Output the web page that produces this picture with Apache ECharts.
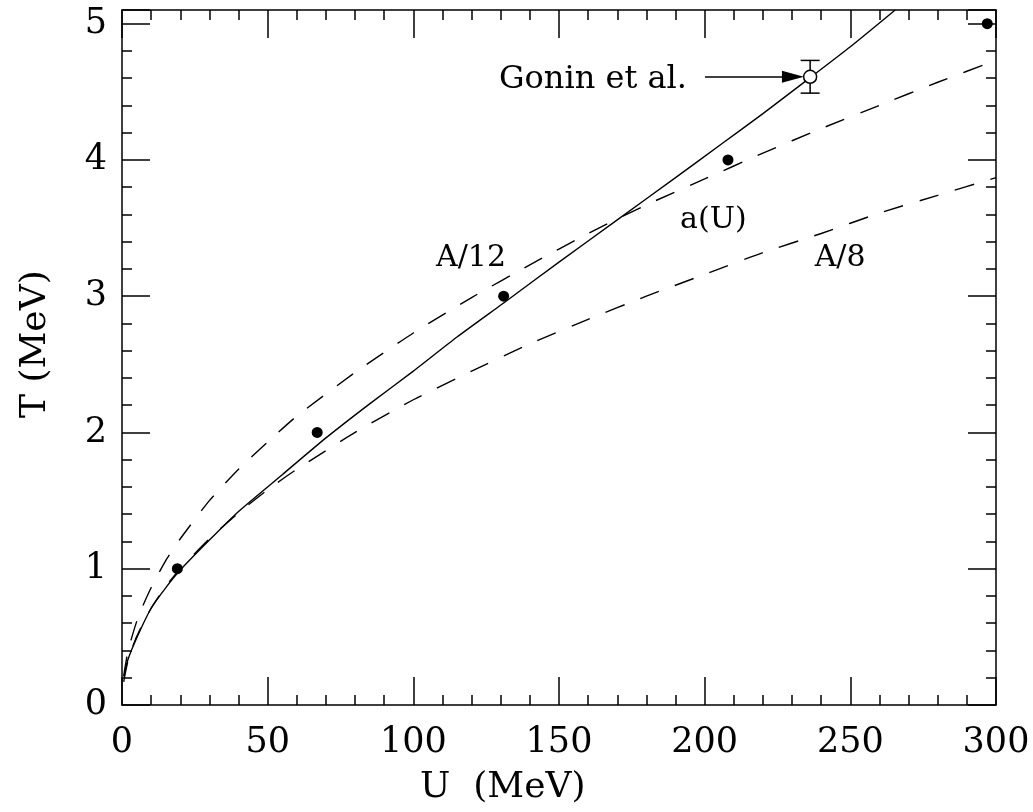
<!DOCTYPE html>
<html>
<head>
<meta charset="utf-8">
<script src="https://cdn.jsdelivr.net/npm/echarts@6/dist/echarts.min.js"></script>
<style>html,body{margin:0;padding:0;background:#fff;}#c{width:1033px;height:812px;}</style>
</head>
<body>
<div id="c"></div>
<script>
// ---- data ----
const solidU = [0.7, 2, 5, 10, 15, 20, 30, 40, 55, 70, 85, 100, 115, 131, 150, 170, 190, 206, 220, 236, 250, 265.4];
const solidT = [0.21, 0.33, 0.49, 0.71, 0.86, 0.99, 1.21, 1.42, 1.69, 1.96, 2.21, 2.45, 2.70, 2.95, 3.25, 3.56, 3.87, 4.12, 4.34, 4.60, 4.83, 5.10];

const dashU = [0.6, 1, 2, 3, 5, 7, 10, 15, 20, 30, 40, 50, 60, 80, 100, 120, 140, 160, 180, 200, 220, 240, 260, 280, 300];
const a12T = [0.21, 0.27, 0.39, 0.47, 0.61, 0.72, 0.86, 1.06, 1.22, 1.50, 1.73, 1.93, 2.12, 2.44, 2.73, 2.99, 3.23, 3.46, 3.67, 3.86, 4.05, 4.23, 4.40, 4.57, 4.73];
const a8T  = [0.17, 0.22, 0.32, 0.39, 0.50, 0.59, 0.71, 0.87, 1.00, 1.22, 1.41, 1.58, 1.73, 2.00, 2.24, 2.45, 2.65, 2.83, 3.00, 3.16, 3.32, 3.46, 3.61, 3.74, 3.87];

const pointsU = [19, 67, 131, 208, 297];
const pointsT = [1, 2, 3, 4, 5];

const goninU = [236.2];
const goninT = [4.61];
const goninLow = [4.49];
const goninHigh = [4.73];

const arrowU = [200.1, 230.3];
const arrowT = [4.61, 4.61];

const labelText = ['A/12', 'a(U)', 'A/8'];
const labelU = [119.8, 203, 246.5];
const labelT = [3.28, 3.56, 3.28];
const goninText = 'Gonin et al.';
const goninLabelU = 193.9;
const goninLabelT = 4.59;

const xTicksMajor = 50, xTicksMinor = 10;
const yTicksMajor = 1, yTicksMinor = 0.2;
const xMin = 0, xMax = 300, yMin = 0, yMax = 5.1;

// ---- chart ----
const FONT = 'DejaVu Serif';
const zip = (a, b) => a.map((v, i) => [v, b[i]]);
const chart = echarts.init(document.getElementById('c'), null, {renderer: 'canvas'});

const gridRect = {left: 122, right: 37, top: 10, bottom: 107};
const lineStyle = {color: '#000', width: 1.5};

function xAx(gridIndex, position, interval, len, showLabel, showLine) {
  return {
    type: 'value', gridIndex, position, min: xMin, max: xMax, interval,
    axisLine: {show: showLine, onZero: false, lineStyle},
    axisTick: {show: true, inside: true, length: len, lineStyle},
    axisLabel: {show: showLabel, color: '#000', fontFamily: FONT, fontSize: 35, margin: 20},
    splitLine: {show: false}
  };
}
function yAx(gridIndex, position, interval, len, showLabel, showLine) {
  return {
    type: 'value', gridIndex, position, min: yMin, max: yMax, interval,
    axisLine: {show: showLine, onZero: false, lineStyle},
    axisTick: {show: true, inside: true, length: len, lineStyle},
    axisLabel: {show: showLabel, color: '#000', fontFamily: FONT, fontSize: 35, margin: 15,
      formatter: v => (Math.abs(v - Math.round(v)) < 1e-9 ? String(Math.round(v)) : '')},
    splitLine: {show: false}
  };
}

const option = {
  backgroundColor: '#fff',
  animation: false,
  grid: [Object.assign({}, gridRect), Object.assign({}, gridRect)],
  xAxis: [
    xAx(0, 'bottom', xTicksMajor, 28, true, true),
    xAx(0, 'top', xTicksMajor, 28, false, true),
    xAx(1, 'bottom', xTicksMinor, 10, false, false),
    xAx(1, 'top', xTicksMinor, 10, false, false)
  ],
  yAxis: [
    yAx(0, 'left', yTicksMajor, 28, true, true),
    yAx(0, 'right', yTicksMajor, 28, false, true),
    yAx(1, 'left', yTicksMinor, 10, false, false),
    yAx(1, 'right', yTicksMinor, 10, false, false)
  ],
  graphic: [
    {type: 'text', left: 420, top: 770, style: {text: 'U  (MeV)', font: '36px "DejaVu Serif"', fill: '#000'}},
    {type: 'text', x: 18, y: 418, rotation: Math.PI / 2,
      style: {text: 'T (MeV)', font: '36px "DejaVu Serif"', fill: '#000'}}
  ],
  series: [
    {type: 'line', name: 'a(U)', xAxisIndex: 0, yAxisIndex: 0, data: zip(solidU, solidT),
      showSymbol: false, symbol: 'none', smooth: 0.2, clip: true,
      lineStyle: {color: '#000', width: 1.4}},
    {type: 'line', name: 'A/12', xAxisIndex: 0, yAxisIndex: 0, data: zip(dashU, a12T),
      showSymbol: false, symbol: 'none', smooth: 0.2, clip: true,
      lineStyle: {color: '#000', width: 1.4, type: [20, 17]}},
    {type: 'line', name: 'A/8', xAxisIndex: 0, yAxisIndex: 0, data: zip(dashU, a8T),
      showSymbol: false, symbol: 'none', smooth: 0.2, clip: true,
      lineStyle: {color: '#000', width: 1.4, type: [20, 17]}},
    {type: 'scatter', name: 'points', xAxisIndex: 0, yAxisIndex: 0, data: zip(pointsU, pointsT),
      symbol: 'circle', symbolSize: 11, itemStyle: {color: '#000', opacity: 1}, clip: false, z: 5},
    {type: 'custom', name: 'errorbar', xAxisIndex: 0, yAxisIndex: 0,
      data: goninU.map((u, i) => [u, goninLow[i], goninHigh[i]]),
      renderItem: function (params, api) {
        const lo = api.coord([api.value(0), api.value(1)]);
        const hi = api.coord([api.value(0), api.value(2)]);
        const w = 9.5;
        const s = {stroke: '#000', lineWidth: 1.5, fill: null};
        return {type: 'group', children: [
          {type: 'line', shape: {x1: lo[0], y1: lo[1], x2: hi[0], y2: hi[1]}, style: s},
          {type: 'line', shape: {x1: lo[0] - w, y1: lo[1], x2: lo[0] + w, y2: lo[1]}, style: s},
          {type: 'line', shape: {x1: hi[0] - w, y1: hi[1], x2: hi[0] + w, y2: hi[1]}, style: s}
        ]};
      }, z: 4},
    {type: 'scatter', name: 'Gonin', xAxisIndex: 0, yAxisIndex: 0, data: zip(goninU, goninT),
      symbol: 'circle', symbolSize: 13,
      itemStyle: {color: '#fff', borderColor: '#000', borderWidth: 1.5, opacity: 1}, z: 6},
    {type: 'line', name: 'arrow', xAxisIndex: 0, yAxisIndex: 0, data: [],
      markLine: {silent: true, symbol: ['none', 'triangle'], symbolSize: [12, 22],
        label: {show: false},
        lineStyle: {color: '#000', width: 1.5, type: 'solid'},
        data: [[{coord: [arrowU[0], arrowT[0]]}, {coord: [arrowU[1], arrowT[1]]}]]}},
    {type: 'scatter', name: 'labels', xAxisIndex: 0, yAxisIndex: 0,
      data: labelText.map((t, i) => ({name: t, value: [labelU[i], labelT[i]]})),
      symbolSize: 0, itemStyle: {color: 'transparent', opacity: 1},
      label: {show: true, position: 'inside', formatter: p => p.name, color: '#000',
        fontFamily: FONT, fontSize: 30}},
    {type: 'scatter', name: 'goninLabel', xAxisIndex: 0, yAxisIndex: 0,
      data: [{name: goninText, value: [goninLabelU, goninLabelT]}],
      symbolSize: 0, itemStyle: {color: 'transparent', opacity: 1},
      label: {show: true, position: 'left', distance: 0, formatter: p => p.name, color: '#000',
        fontFamily: FONT, fontSize: 32}}
  ]
};
chart.setOption(option);
</script>
</body>
</html>
